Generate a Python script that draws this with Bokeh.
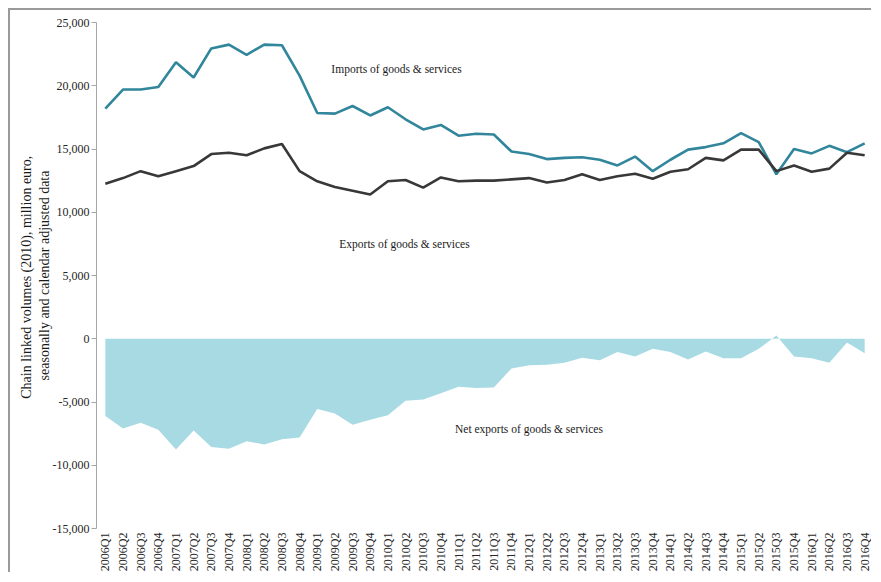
from bokeh.plotting import figure
from bokeh.models import (ColumnDataSource, Range1d, FactorRange, NumeralTickFormatter,
                          SingleIntervalTicker)
from bokeh.core.properties import value
from bokeh.embed import file_html
from bokeh.resources import INLINE
import math

quarters = ["2006Q1", "2006Q2", "2006Q3", "2006Q4", "2007Q1", "2007Q2", "2007Q3", "2007Q4",
            "2008Q1", "2008Q2", "2008Q3", "2008Q4", "2009Q1", "2009Q2", "2009Q3", "2009Q4",
            "2010Q1", "2010Q2", "2010Q3", "2010Q4", "2011Q1", "2011Q2", "2011Q3", "2011Q4",
            "2012Q1", "2012Q2", "2012Q3", "2012Q4", "2013Q1", "2013Q2", "2013Q3", "2013Q4",
            "2014Q1", "2014Q2", "2014Q3", "2014Q4", "2015Q1", "2015Q2", "2015Q3", "2015Q4",
            "2016Q1", "2016Q2", "2016Q3", "2016Q4"]

imports = [18200, 19700, 19700, 19900, 21850, 20650, 22950, 23250,
           22450, 23250, 23200, 20800, 17850, 17800, 18400, 17650,
           18300, 17350, 16550, 16900, 16050, 16200, 16150, 14800,
           14600, 14200, 14300, 14350, 14150, 13700, 14400, 13250,
           14150, 14950, 15150, 15450, 16250, 15550, 13000, 15000,
           14650, 15250, 14750, 15450]

exports = [12250, 12700, 13250, 12850, 13250, 13650, 14600, 14700,
           14500, 15050, 15400, 13250, 12450, 12000, 11700, 11400,
           12450, 12550, 11950, 12750, 12450, 12500, 12500, 12600,
           12700, 12350, 12550, 13000, 12550, 12850, 13050, 12650,
           13200, 13400, 14300, 14100, 14950, 14950, 13250, 13700,
           13200, 13450, 14700, 14500]

net_exports = [-6100, -7100, -6650, -7200, -8750, -7250, -8550, -8700,
               -8100, -8350, -7950, -7800, -5550, -5900, -6800, -6400,
               -6050, -4900, -4800, -4300, -3800, -3900, -3850, -2350,
               -2100, -2050, -1900, -1500, -1700, -1050, -1400, -800,
               -1050, -1650, -1000, -1550, -1550, -800, 250, -1400,
               -1550, -1900, -300, -1150]

y_label = "Chain linked volumes  (2010), million euro,\nseasonally and calendar adjusted data"

FONT = "Liberation Serif"

src = ColumnDataSource(dict(q=quarters, imp=imports, exp=exports, net=net_exports))

p = figure(width=863, height=564, x_range=FactorRange(*quarters), y_range=Range1d(-15000, 25000),
           output_backend="svg", toolbar_location=None,
           min_border_left=86, min_border_right=0, min_border_top=12, min_border_bottom=43)
p.styles = {"margin-left": "8px", "margin-top": "8px",
            "border-top": "2px solid #9a9a9a", "border-left": "2px solid #9a9a9a"}

p.varea(x="q", y1=0, y2="net", source=src, fill_color="#A8DAE3", fill_alpha=1.0)
p.line(x="q", y="imp", source=src, line_color="#31869C", line_width=2.6)
p.line(x="q", y="exp", source=src, line_color="#383838", line_width=2.6)

lbl = dict(text_font=value(FONT), text_font_size="11.5px", text_color="#1a1a1a",
           text_baseline="middle", text_align="left")
p.text(x=[13.3], y=[21300], text=["Imports of goods & services"], **lbl)
p.text(x=[13.75], y=[7500], text=["Exports of goods & services"], **lbl)
p.text(x=[20.3], y=[-7100], text=["Net exports of goods & services"], **lbl)

p.xgrid.visible = False
p.ygrid.visible = False
p.outline_line_color = None
p.background_fill_color = "white"
p.border_fill_color = "white"

ya = p.yaxis[0]
ya.ticker = SingleIntervalTicker(interval=5000)
ya.formatter = NumeralTickFormatter(format="0,0")
ya.axis_line_color = "#a6a6a6"
ya.major_tick_line_color = "#a6a6a6"
ya.major_tick_out = 5
ya.major_tick_in = 0
ya.minor_tick_line_color = None
ya.major_label_text_font = FONT
ya.major_label_text_font_size = "12px"
ya.major_label_text_color = "#262626"
ya.major_label_standoff = 2
ya.axis_label = y_label
ya.axis_label_text_font = FONT
ya.axis_label_text_font_size = "14px"
ya.axis_label_text_font_style = "normal"
ya.axis_label_text_color = "#1a1a1a"
ya.axis_label_standoff = -2

xa = p.xaxis[0]
xa.axis_line_color = None
xa.major_tick_line_color = None
xa.major_tick_out = 0
xa.major_tick_in = 0
xa.minor_tick_line_color = None
xa.major_label_orientation = math.pi / 2
xa.major_label_text_font = FONT
xa.major_label_text_font_size = "12px"
xa.major_label_text_color = "#262626"
xa.major_label_standoff = 4

open("out.html", "w").write(file_html(p, INLINE))
